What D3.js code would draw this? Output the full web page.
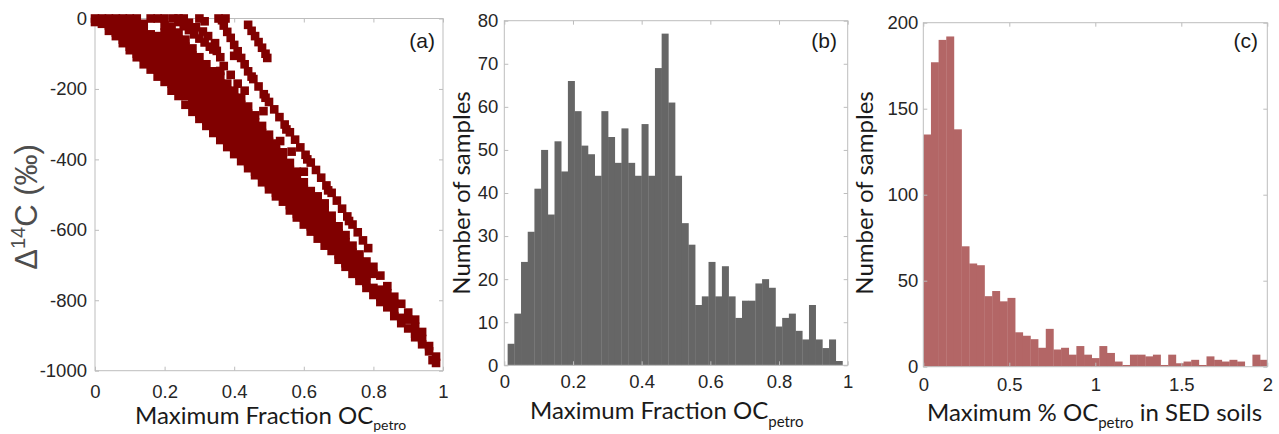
<!DOCTYPE html>
<html><head><meta charset="utf-8">
<script src="https://cdn.jsdelivr.net/npm/d3@7"></script>
<style>
body{margin:0;background:#fff;}
svg{display:block;}
.tick text{font-family:"Liberation Sans",Arial,Helvetica,sans-serif;font-size:18.5px;fill:#262626;}
.title{font-family:Lato,"Noto Sans",sans-serif;fill:#1a1a1a;}
</style></head><body>
<svg id="chart" width="1279" height="434"></svg>
<script>
// ---------- DATA ----------
// Panel (a): Δ14C vs maximum fraction OCpetro
const scatterPoints = [
[0,0],[0,-10],
[0.02,0],[0.02,-15],
[0.04,0],[0.04,-20],[0.04,-35],
[0.06,0],[0.06,-20],[0.06,-40],[0.06,-50],
[0.08,0],[0.08,-20],[0.08,-40],[0.08,-60],[0.08,-70],
[0.10,0],[0.10,-20],[0.10,-40],[0.10,-60],[0.10,-80],[0.10,-90],
[0.12,0],[0.12,-20],[0.12,-40],[0.12,-60],[0.12,-80],[0.12,-100],[0.12,-110],
[0.14,-15],[0.14,-30],[0.14,-50],[0.14,-70],[0.14,-90],[0.14,-110],[0.14,-130],
[0.16,0],[0.16,-45],[0.16,-65],[0.16,-85],[0.16,-105],[0.16,-125],[0.16,-145],
[0.18,0],[0.18,-50],[0.18,-65],[0.18,-85],[0.18,-105],[0.18,-125],[0.18,-145],[0.18,-165],
[0.20,0],[0.20,-20],[0.20,-40],[0.20,-60],[0.20,-80],[0.20,-100],[0.20,-120],[0.20,-140],[0.20,-160],[0.20,-180],
[0.22,-25],[0.22,-45],[0.22,-65],[0.22,-85],[0.22,-105],[0.22,-125],[0.22,-145],[0.22,-165],[0.22,-185],[0.22,-205],
[0.24,-40],[0.24,-60],[0.24,-80],[0.24,-100],[0.24,-120],[0.24,-140],[0.24,-160],[0.24,-180],[0.24,-200],[0.24,-220],
[0.26,-60],[0.26,-80],[0.26,-100],[0.26,-120],[0.26,-140],[0.26,-160],[0.26,-180],[0.26,-200],[0.26,-220],[0.26,-245],
[0.28,-85],[0.28,-105],[0.28,-125],[0.28,-145],[0.28,-165],[0.28,-185],[0.28,-205],[0.28,-225],[0.28,-245],[0.28,-265],
[0.30,-110],[0.30,-130],[0.30,-150],[0.30,-170],[0.30,-190],[0.30,-210],[0.30,-230],[0.30,-250],[0.30,-270],[0.30,-285],
[0.32,-130],[0.32,-150],[0.32,-170],[0.32,-190],[0.32,-210],[0.32,-230],[0.32,-250],[0.32,-270],[0.32,-290],[0.32,-305],
[0.34,-150],[0.34,-170],[0.34,-190],[0.34,-210],[0.34,-230],[0.34,-250],[0.34,-270],[0.34,-290],[0.34,-310],[0.34,-325],
[0.36,-165],[0.36,-185],[0.36,-205],[0.36,-225],[0.36,-245],[0.36,-265],[0.36,-285],[0.36,-305],[0.36,-325],[0.36,-345],
[0.38,-185],[0.38,-205],[0.38,-225],[0.38,-245],[0.38,-265],[0.38,-285],[0.38,-305],[0.38,-325],[0.38,-345],[0.38,-365],
[0.40,-205],[0.40,-225],[0.40,-245],[0.40,-265],[0.40,-285],[0.40,-305],[0.40,-325],[0.40,-345],[0.40,-365],[0.40,-385],
[0.42,-225],[0.42,-245],[0.42,-265],[0.42,-285],[0.42,-305],[0.42,-325],[0.42,-345],[0.42,-365],[0.42,-385],[0.42,-405],
[0.44,-250],[0.44,-270],[0.44,-290],[0.44,-310],[0.44,-330],[0.44,-350],[0.44,-370],[0.44,-390],[0.44,-410],[0.44,-425],
[0.46,-275],[0.46,-295],[0.46,-315],[0.46,-335],[0.46,-355],[0.46,-375],[0.46,-395],[0.46,-415],[0.46,-435],[0.46,-445],
[0.48,-305],[0.48,-325],[0.48,-345],[0.48,-365],[0.48,-385],[0.48,-405],[0.48,-425],[0.48,-445],[0.48,-465],
[0.50,-330],[0.50,-350],[0.50,-370],[0.50,-390],[0.50,-410],[0.50,-430],[0.50,-450],[0.50,-470],[0.50,-485],
[0.52,-355],[0.52,-375],[0.52,-395],[0.52,-415],[0.52,-435],[0.52,-455],[0.52,-475],[0.52,-495],[0.52,-505],
[0.54,-380],[0.54,-400],[0.54,-420],[0.54,-440],[0.54,-460],[0.54,-480],[0.54,-500],[0.54,-520],
[0.56,-410],[0.56,-430],[0.56,-450],[0.56,-470],[0.56,-490],[0.56,-510],[0.56,-530],[0.56,-545],
[0.58,-435],[0.58,-455],[0.58,-475],[0.58,-495],[0.58,-515],[0.58,-535],[0.58,-555],[0.58,-565],
[0.60,-465],[0.60,-485],[0.60,-505],[0.60,-525],[0.60,-545],[0.60,-565],[0.60,-585],
[0.62,-490],[0.62,-510],[0.62,-530],[0.62,-550],[0.62,-570],[0.62,-590],[0.62,-605],
[0.64,-505],[0.64,-525],[0.64,-545],[0.64,-565],[0.64,-585],[0.64,-605],[0.64,-625],
[0.66,-525],[0.66,-545],[0.66,-565],[0.66,-585],[0.66,-605],[0.66,-625],[0.66,-645],
[0.68,-560],[0.68,-580],[0.68,-600],[0.68,-620],[0.68,-640],[0.68,-660],
[0.70,-590],[0.70,-610],[0.70,-630],[0.70,-650],[0.70,-670],[0.70,-685],
[0.72,-615],[0.72,-635],[0.72,-655],[0.72,-675],[0.72,-695],[0.72,-705],
[0.74,-645],[0.74,-665],[0.74,-685],[0.74,-705],[0.74,-725],
[0.76,-670],[0.76,-690],[0.76,-710],[0.76,-730],[0.76,-745],
[0.78,-690],[0.78,-710],[0.78,-730],[0.78,-750],[0.78,-765],
[0.80,-705],[0.80,-725],[0.80,-765],[0.80,-785],
[0.82,-730],[0.82,-770],[0.82,-790],[0.82,-805],
[0.84,-760],[0.84,-780],[0.84,-800],[0.84,-820],
[0.86,-790],[0.86,-810],[0.86,-830],[0.86,-845],
[0.88,-810],[0.88,-850],[0.88,-865],
[0.90,-835],[0.90,-855],[0.90,-880],
[0.92,-855],[0.92,-875],[0.92,-895],[0.92,-905],
[0.94,-890],[0.94,-910],[0.94,-925],
[0.96,-930],[0.96,-945],
[0.97,-970],[0.98,-960],[0.98,-978],
// long right streak
[0.44,-150],[0.455,-172],[0.47,-193],[0.485,-215],[0.50,-237],[0.515,-258],[0.53,-280],[0.545,-301],
[0.56,-323],[0.575,-344],[0.59,-366],[0.605,-387],[0.62,-409],[0.635,-430],[0.65,-452],[0.665,-474],
[0.68,-495],[0.695,-517],[0.71,-540],[0.725,-562],[0.74,-585],[0.755,-607],[0.77,-630],[0.785,-652],
[0.45,-165],[0.49,-225],[0.55,-315],[0.61,-400],[0.67,-488],[0.73,-575],
// short upper streak
[0.44,-18],[0.45,-35],[0.46,-50],[0.47,-67],[0.48,-83],[0.49,-100],[0.495,-112],
// upper streaks near the top
[0.355,0],[0.365,-5],[0.37,-20],[0.38,-38],[0.39,-55],[0.40,-75],[0.41,-93],[0.42,-112],[0.43,-130],
[0.225,0],[0.24,-10],[0.255,-22],[0.27,-33],[0.285,-45],[0.30,-57],[0.315,-68],[0.33,-80],[0.34,-88],
[0.24,0],[0.255,0],[0.30,0],[0.315,-8],[0.31,-37],[0.375,0],[0.27,-12],[0.29,-25],[0.325,-50],
[0.345,-70],[0.36,-110],[0.37,-135],[0.39,-160],[0.41,-185],[0.43,-205],
// scattered squares between streaks
[0.35,-92],[0.36,-149],[0.40,-106],[0.484,-263],[0.532,-348],[0.565,-378],[0.60,-435]
];

// Panel (b): histogram of maximum fraction OCpetro
const histBStart = 0.0097, histBWidth = 0.0195;
const histBCounts = [5,12,24,31,41,50,35,52,45,66, 59,51,49,44,59,53,47,55,47,44,
  56,44,69,77,61,44,33,28,14,16, 24,16,23,16,11,15,15,19,20,18, 9,11,12,8,6,14,6,4,6,1];

// Panel (c): histogram of maximum % OCpetro in SED soils
const histCStart = 0, histCWidth = 0.0445;
const histCCounts = [135,177,190,192,138,70,60,59,41,44, 38,40,20,18,16,11,22,10,11,7,
  12,7,5,12,8,3,1,7,7,6, 7,1,7,2,3,4,1,6,4,3, 4,3,0,7,4];

// Tick values
const xTicksA = [0,0.2,0.4,0.6,0.8,1];
const yTicksA = [0,-200,-400,-600,-800,-1000];
const xTicksB = [0,0.2,0.4,0.6,0.8,1];
const yTicksB = [0,10,20,30,40,50,60,70,80];
const xTicksC = [0,0.5,1,1.5,2];
const yTicksC = [0,50,100,150,200];

// ---------- DRAWING ----------
const svg = d3.select('#chart');
const frameColor = '#bdbdbd';

const xA = d3.scaleLinear().domain([0,1]).range([95,443]);
const yA = d3.scaleLinear().domain([-1000,0]).range([370.7,18.5]);
const xB = d3.scaleLinear().domain([0,1]).range([504.3,847.7]);
const yB = d3.scaleLinear().domain([0,80]).range([365.3,20.7]);
const xC = d3.scaleLinear().domain([0,2]).range([923.3,1267.3]);
const yC = d3.scaleLinear().domain([0,200]).range([366.7,22.7]);

function frame(g, x, y, xt, yt, xPad, yPad){
  const [x0,x1] = x.range(), [y0,y1] = y.range();
  const fmt = d => String(d);
  const b = g.append('g').attr('transform',`translate(0,${y0})`)
    .call(d3.axisBottom(x).tickValues(xt).tickSize(-4).tickPadding(xPad).tickFormat(fmt));
  const t = g.append('g').attr('transform',`translate(0,${y1})`)
    .call(d3.axisTop(x).tickValues(xt).tickSize(-4).tickFormat(()=>''));
  const l = g.append('g').attr('transform',`translate(${x0},0)`)
    .call(d3.axisLeft(y).tickValues(yt).tickSize(-4).tickPadding(yPad).tickFormat(fmt));
  const r = g.append('g').attr('transform',`translate(${x1},0)`)
    .call(d3.axisRight(y).tickValues(yt).tickSize(-4).tickFormat(()=>''));
  [b,t,l,r].forEach(a=>{
    a.select('.domain').remove();
    a.selectAll('.tick line').attr('stroke',frameColor);
    a.attr('font-family',null).attr('font-size',null);
  });
  g.append('rect').attr('x',x0).attr('y',y1).attr('width',x1-x0).attr('height',y0-y1)
    .attr('fill','none').attr('stroke',frameColor).attr('stroke-width',1);
}

// Panel (a)
const gA = svg.append('g');
frame(gA, xA, yA, xTicksA, yTicksA, 14, 8);
const ms = 8.6;
gA.append('g').selectAll('rect').data(scatterPoints).join('rect')
  .attr('x',d=>xA(d[0])-ms/2).attr('y',d=>yA(d[1])-ms/2)
  .attr('width',ms).attr('height',ms).attr('fill','#800000');

// Panel (b)
const gB = svg.append('g');
gB.append('g').selectAll('rect').data(histBCounts).join('rect')
  .attr('x',(d,i)=>xB(histBStart+i*histBWidth))
  .attr('width',(d,i)=>xB(histBStart+(i+1)*histBWidth)-xB(histBStart+i*histBWidth)+0.3)
  .attr('y',d=>yB(d)).attr('height',d=>yB(0)-yB(d)).attr('fill','#666666');
frame(gB, xB, yB, xTicksB, yTicksB, 10, 6);

// Panel (c)
const gC = svg.append('g');
svg.append('defs').append('clipPath').attr('id','clipC').append('rect')
  .attr('x',xC(0)).attr('y',yC(200)).attr('width',xC(2)-xC(0)).attr('height',yC(0)-yC(200));
gC.append('g').attr('clip-path','url(#clipC)').selectAll('rect').data(histCCounts).join('rect')
  .attr('x',(d,i)=>xC(histCStart+i*histCWidth))
  .attr('width',(d,i)=>xC(histCStart+(i+1)*histCWidth)-xC(histCStart+i*histCWidth)+0.3)
  .attr('y',d=>yC(d)).attr('height',d=>yC(0)-yC(d)).attr('fill','#b36666');
frame(gC, xC, yC, xTicksC, yTicksC, 11, 5);

// Panel labels
[['(a)',435],['(b)',837],['(c)',1258]].forEach(([s,x])=>{
  svg.append('text').attr('x',x).attr('y',48).attr('text-anchor','end')
    .attr('font-family','"Liberation Sans",Arial,sans-serif').attr('font-size',21)
    .attr('fill','#1a1a1a').text(s);
});

// Axis titles
const tA = svg.append('text').attr('class','title').attr('x',135).attr('y',424).attr('font-size',24);
tA.append('tspan').text('Maximum Fraction OC');
tA.append('tspan').attr('font-size',14).attr('dy',6).text('petro');

const tB = svg.append('text').attr('class','title').attr('x',530).attr('y',419).attr('font-size',24);
tB.append('tspan').text('Maximum Fraction OC');
tB.append('tspan').attr('font-size',15).attr('dy',8).text('petro');

const tC = svg.append('text').attr('class','title').attr('x',927).attr('y',421).attr('font-size',24);
tC.append('tspan').text('Maximum % OC');
tC.append('tspan').attr('font-size',15).attr('dy',7).text('petro');
tC.append('tspan').attr('dy',-7).text(' in SED soils');

svg.append('text').attr('class','title').attr('transform','translate(470,193) rotate(-90)')
  .attr('text-anchor','middle').attr('font-size',24).text('Number of samples');
svg.append('text').attr('class','title').attr('transform','translate(873,193) rotate(-90)')
  .attr('text-anchor','middle').attr('font-size',24).text('Number of samples');

const tY = svg.append('text').attr('transform','translate(37,207) rotate(-90)')
  .attr('text-anchor','middle').attr('font-family','"Liberation Sans",Arial,sans-serif')
  .attr('font-size',31).attr('fill','#4d4d4d');
tY.append('tspan').text('Δ');
tY.append('tspan').attr('font-size',20).attr('dy',-12).text('14');
tY.append('tspan').attr('dy',12).text('C (‰)');
</script>
</body></html>
